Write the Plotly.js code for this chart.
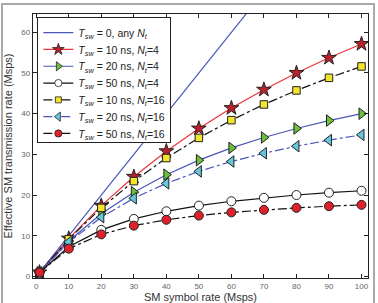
<!DOCTYPE html>
<html><head><meta charset="utf-8">
<script src="https://cdn.plot.ly/plotly-3.0.1.min.js"></script>
<style>
html,body{margin:0;padding:0;background:#fff;}
#wrap{position:relative;width:378px;height:303px;}
#chart{width:378px;height:303px;}
#frame{position:absolute;left:1px;top:3px;width:374px;height:300px;border:2px solid #aaa;border-bottom:none;pointer-events:none;box-sizing:border-box;}
</style></head>
<body><div id="wrap"><div id="chart"></div><div id="frame"></div></div>
<script>
const symbolRate = [1, 10, 20, 30, 40, 50, 60, 70, 80, 90, 100];
const ideal      = [1, 10, 20, 30, 40, 50, 60, 70, 80, 90, 100];
const sw10_nt4   = [0.99, 9.30, 17.39, 24.49, 30.77, 36.36, 41.38, 45.90, 50.00, 53.73, 57.14];
const sw20_nt4   = [0.99, 8.70, 15.38, 20.69, 25.00, 28.57, 31.58, 34.15, 36.36, 38.30, 40.00];
const sw50_nt4   = [0.96, 7.27, 11.43, 14.12, 16.00, 17.39, 18.46, 19.31, 20.00, 20.57, 21.05];
const sw10_nt16  = [0.99, 9.14, 16.84, 23.41, 29.09, 34.04, 38.40, 42.26, 45.71, 48.81, 51.61];
const sw20_nt16  = [0.98, 8.42, 14.55, 19.20, 22.86, 25.81, 28.24, 30.27, 32.00, 33.49, 34.78];
const sw50_nt16  = [0.96, 6.81, 10.32, 12.47, 13.91, 14.95, 15.74, 16.35, 16.84, 17.25, 17.58];
const names = [
  '<i>T</i><sub><i>sw</i></sub> = 0, any <i>N</i><sub><i>t</i></sub>',
  '<i>T</i><sub><i>sw</i></sub> = 10 ns, <i>N</i><sub><i>t</i></sub>=4',
  '<i>T</i><sub><i>sw</i></sub> = 20 ns, <i>N</i><sub><i>t</i></sub>=4',
  '<i>T</i><sub><i>sw</i></sub> = 50 ns, <i>N</i><sub><i>t</i></sub>=4',
  '<i>T</i><sub><i>sw</i></sub> = 10 ns, <i>N</i><sub><i>t</i></sub>=16',
  '<i>T</i><sub><i>sw</i></sub> = 20 ns, <i>N</i><sub><i>t</i></sub>=16',
  '<i>T</i><sub><i>sw</i></sub> = 50 ns, <i>N</i><sub><i>t</i></sub>=16'
];
const BLUE='#4a56b8', RED='#e8343a', EDGE='#222';
function tr(y, name, lineColor, dash, symbol, fill, size){
  const t = {x: symbolRate, y: y, name: name, type:'scatter',
    mode: symbol ? 'lines+markers' : 'lines',
    line:{color: lineColor, width: 1.2, dash: dash}};
  if (symbol) t.marker = {symbol: symbol, size: size, color: fill, line:{color: EDGE, width: 1}};
  return t;
}
const data = [
  tr(ideal, names[0], BLUE, 'solid', null),
  tr(sw10_nt4, names[1], RED, 'solid', 'star', '#b8202c', 11),
  tr(sw20_nt4, names[2], BLUE, 'solid', 'triangle-right', '#6cbf3a', 10),
  tr(sw50_nt4, names[3], '#111', 'solid', 'circle', '#ffffff', 9),
  tr(sw10_nt16, names[4], '#111', 'dashdot', 'square', '#f3e52a', 7.5),
  tr(sw20_nt16, names[5], BLUE, 'dashdot', 'triangle-left', '#66c6dc', 10),
  tr(sw50_nt16, names[6], '#111', 'dashdot', 'circle', '#e0202a', 9)
];
const FONT='Liberation Sans, Arial, sans-serif';
const axisCommon = {showgrid:false, zeroline:false, showline:true, linecolor:'#222', linewidth:1.2,
  mirror:'ticks', ticks:'inside', ticklen:4, tickcolor:'#222',
  tickfont:{family:FONT, size:8, color:'#666'}};
const layout = {
  width:378, height:303,
  margin:{l:33, r:10, t:14, b:25},
  paper_bgcolor:'#fff', plot_bgcolor:'#fff',
  showlegend:true,
  legend:{x:0.013, y:0.988, xanchor:'left', yanchor:'top', bgcolor:'#fff', bordercolor:'#222', borderwidth:1,
    font:{family:FONT, size:10.5, color:'#222'}, tracegroupgap:0, itemwidth:30},
  xaxis: Object.assign({}, axisCommon, {range:[-1, 102], tickvals:[0,10,20,30,40,50,60,70,80,90,100],
    title:{text:'SM symbol rate (Msps)', font:{family:FONT, size:11, color:'#333'}, standoff:2}}),
  yaxis: Object.assign({}, axisCommon, {range:[-0.4, 64.5], tickvals:[0,10,20,30,40,50,60],
    title:{text:'Effective SM transmission rate (Msps)', font:{family:FONT, size:11, color:'#333'}, standoff:6}})
};
Plotly.newPlot('chart', data, layout, {displayModeBar:false, staticPlot:true}).then(function(gd){
  // tighten legend row spacing to match the reference
  const items = gd.querySelectorAll('.legend .traces');
  const spacing = 16.8;
  let y0 = null, x0 = 0;
  items.forEach(function(g, i){
    const m = /translate\(([-\d.]+)[ ,]+([-\d.]+)\)/.exec(g.getAttribute('transform') || '');
    if (!m) return;
    if (y0 === null){ y0 = parseFloat(m[2]); x0 = parseFloat(m[1]); }
    g.setAttribute('transform', 'translate(' + m[1] + ',' + (y0 + i*spacing) + ')');
  });
  const bg = gd.querySelector('.legend .bg');
  if (bg && y0 !== null){
    const h = y0 + (items.length - 1)*spacing + 9;
    bg.setAttribute('height', h);
  }
  gd.querySelectorAll('.legend .legendpoints path.scatterpts').forEach(function(p){
    const t = p.getAttribute('transform') || '';
    p.setAttribute('transform', t + ' scale(0.8)');
  });
});
</script></body></html>
